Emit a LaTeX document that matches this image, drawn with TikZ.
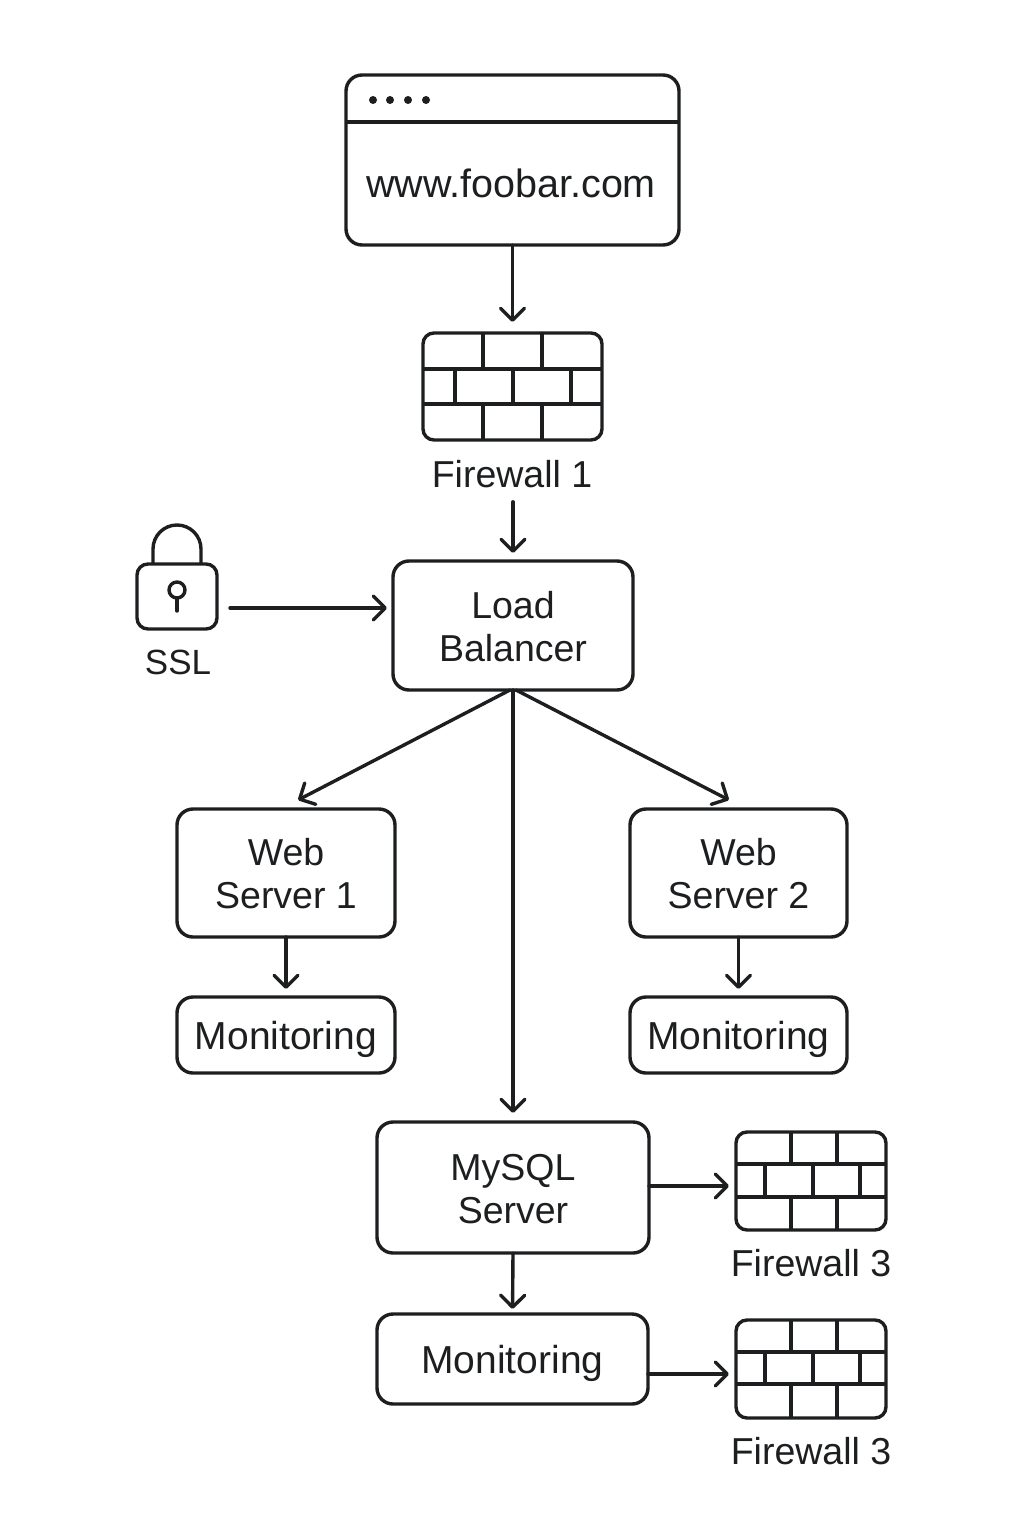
\documentclass[tikz,border=0pt]{standalone}
\usepackage{fontspec}
\setmainfont{Liberation Sans}
\usetikzlibrary{arrows.meta}
\definecolor{ink}{HTML}{1C1E20}
\pgfdeclarearrow{
  name=OpenVee,
  setup code={
    \pgfarrowssettipend{1.8pt}
    \pgfarrowssetlineend{-1pt}
    \pgfarrowssetvisualtipend{1.8pt}
    \pgfarrowssetbackend{-13pt}
    \pgfarrowssetvisualbackend{-13pt}
  },
  drawing code={
    \pgfsetdash{}{0pt}
    \pgfsetroundcap
    \pgfsetroundjoin
    \pgfsetlinewidth{3.4pt}
    \pgfpathmoveto{\pgfqpoint{-12pt}{12pt}}
    \pgfpathlineto{\pgfqpoint{0pt}{0pt}}
    \pgfpathlineto{\pgfqpoint{-12pt}{-12pt}}
    \pgfusepathqstroke
  }
}
\tikzset{
  x=1pt,y=-1pt,
  every node/.style={text=ink,outer sep=0pt,inner sep=0pt},
  box/.style={draw=ink,line width=3.4pt,rounded corners=16pt,align=center,font=\fontsize{37.5}{43}\selectfont},
  twoline/.style={box,text height=72pt},
  monbox/.style={box,text depth=0pt,text height=28pt,font=\fontsize{39}{43}\selectfont},
  iconbox/.style={draw=ink,line width=3.4pt,rounded corners=11pt},
  lab/.style={font=\fontsize{37.5}{43}\selectfont},
  thin line/.style={draw=ink,line width=3.4pt},
  arr/.style={draw=ink,line width=3.4pt,line cap=round,-OpenVee},
}
\begin{document}
\begin{tikzpicture}
\useasboundingbox (0,0) rectangle (1024,1536);
% browser
\node[box,minimum width=333pt,minimum height=170pt] (browser) at (512.5,160) {};
\draw[thin line] (browser.west |- 0,122) coordinate (bl) -- (browser.east |- 0,122) coordinate (br);
\foreach \i/\x in {a/373,b/390,c/408,d/426}{\fill[ink] (\x,100) circle (4pt);}
\node[font=\fontsize{39.5}{44}\selectfont] (url) at (511,183) {www.foobar.com};
% firewall 1
\node[iconbox,minimum width=179pt,minimum height=107pt] (fw1) at (512.5,386.5) {};
\draw[thin line] (fw1.west |- 0,369) -- (fw1.east |- 0,369) (fw1.west |- 0,404) -- (fw1.east |- 0,404)
  (483,333) -- (483,369) (542,333) -- (542,369)
  (455,369) -- (455,404) (513,369) -- (513,404) (571,369) -- (571,404)
  (483,404) -- (483,440) (542,404) -- (542,440);
\node[lab] (fw1l) at (512,474) {Firewall 1};
% lock
\node[iconbox,minimum width=80pt,minimum height=65pt] (lock) at (177,596.5) {};
\draw[thin line] (153,564) -- (153,549) arc[start angle=180,end angle=360,radius=24] -- (201,564);
\draw[ink,line width=3.4pt] (177,590) circle (8pt);
\draw[thin line,line cap=round] (177,598) -- (177,611);
\node[lab,font=\fontsize{35}{43}\selectfont] (ssl) at (178,662) {SSL};
% load balancer
\node[twoline,minimum width=240pt,minimum height=129pt] (lb) at (513,625.5) {Load\\Balancer};
% web servers
\node[twoline,minimum width=218pt,minimum height=128pt] (ws1) at (286,873) {Web\\Server 1};
\node[twoline,minimum width=217pt,minimum height=128pt] (ws2) at (738.5,873) {Web\\Server 2};
\node[monbox,minimum width=218pt,minimum height=76pt] (m1) at (286,1035) {Monitoring};
\node[monbox,minimum width=217pt,minimum height=76pt] (m2) at (738.5,1035) {Monitoring};
% mysql
\node[twoline,minimum width=272pt,minimum height=131pt] (db) at (513,1187.5) {MySQL\\Server};
\node[monbox,minimum width=271pt,minimum height=90pt] (m3) at (512.5,1359) {Monitoring};
% firewall 3 a
\node[iconbox,minimum width=150pt,minimum height=98pt] (fwa) at (811,1181) {};
\draw[thin line] (fwa.west |- 0,1164) -- (fwa.east |- 0,1164) (fwa.west |- 0,1197) -- (fwa.east |- 0,1197)
  (791,1132) -- (791,1164) (837,1132) -- (837,1164)
  (765,1164) -- (765,1197) (813,1164) -- (813,1197) (860,1164) -- (860,1197)
  (791,1197) -- (791,1230) (837,1197) -- (837,1230);
\node[lab] (fwal) at (811,1263) {Firewall 3};
% firewall 3 b
\node[iconbox,minimum width=150pt,minimum height=98pt] (fwb) at (811,1369) {};
\draw[thin line] (fwb.west |- 0,1352) -- (fwb.east |- 0,1352) (fwb.west |- 0,1384) -- (fwb.east |- 0,1384)
  (791,1320) -- (791,1352) (837,1320) -- (837,1352)
  (765,1352) -- (765,1384) (813,1352) -- (813,1384) (860,1352) -- (860,1384)
  (791,1384) -- (791,1418) (837,1384) -- (837,1418);
\node[lab] (fwbl) at (811,1451) {Firewall 3};
% connectors
\coordinate (t1) at (298,800);
\coordinate (t2) at (729,800);
\draw[arr,shorten >=11pt] (browser.south) -- (fw1.north);
\draw[arr,shorten <=14pt,shorten >=8pt] (fw1l.south -| lb.north) -- (lb.north);
\draw[arr,shorten <=13pt,shorten >=6pt] (lock.east |- 0,608) -- (lb.west |- 0,608);
\draw[arr] ([xshift=-3pt]lb.south) -- (t1);
\draw[arr] ([xshift=3pt]lb.south) -- (t2);
\draw[arr,shorten >=9pt] (lb.south) -- (db.north);
\draw[arr,shorten >=8pt] (ws1.south) -- (m1.north);
\draw[arr,shorten >=8pt] (ws2.south) -- (m2.north);
\draw[arr,shorten >=5pt] (db.south) -- (m3.north);
\draw[arr,shorten >=7pt] (db.east |- 0,1186) -- (fwa.west |- 0,1186);
\draw[arr,shorten >=7pt] (m3.east |- 0,1374) -- (fwb.west |- 0,1374);
\end{tikzpicture}
\end{document}
